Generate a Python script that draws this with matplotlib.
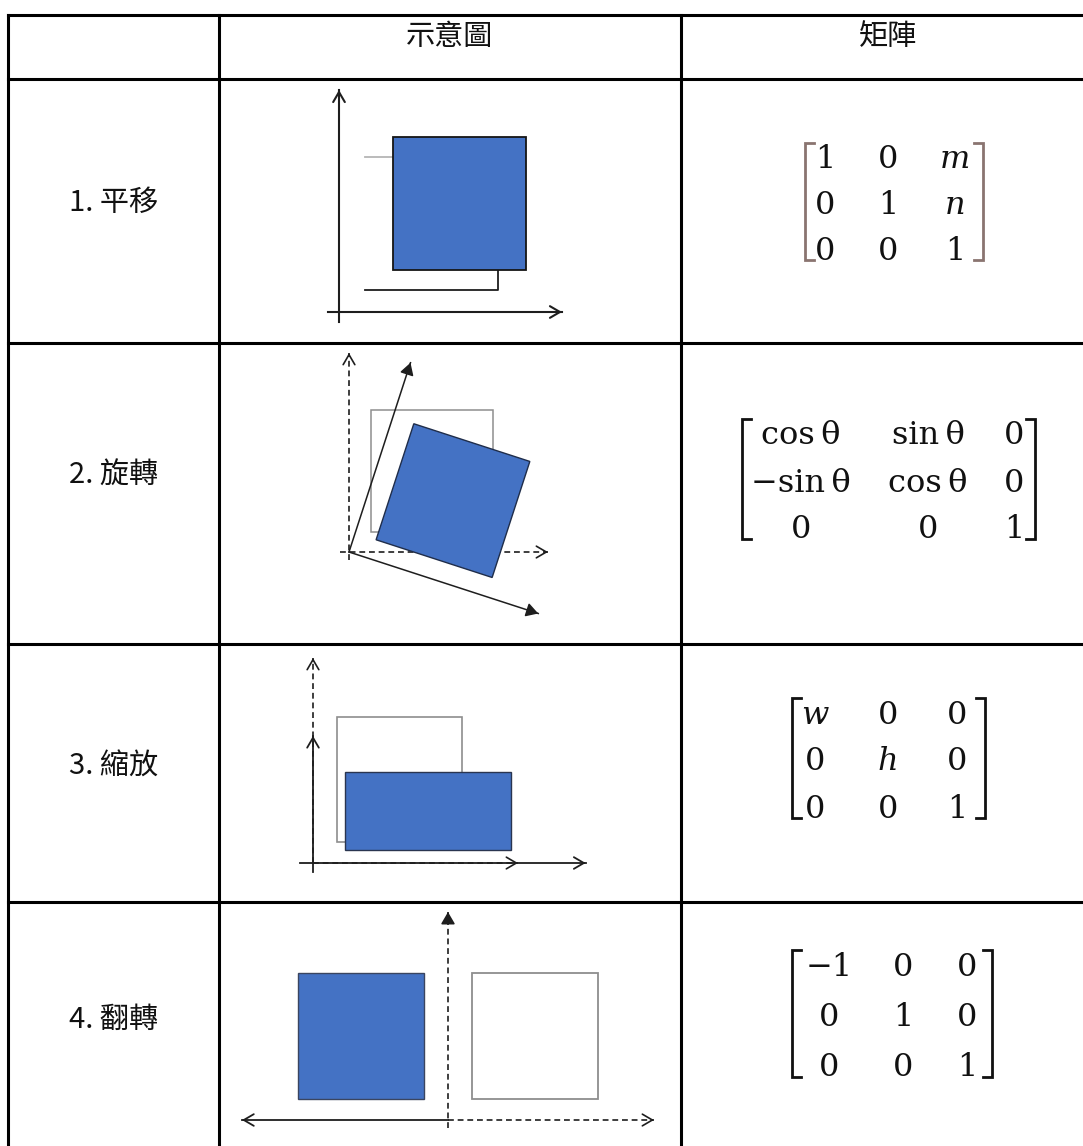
import matplotlib
matplotlib.use('Agg')
import matplotlib.pyplot as plt
import numpy as np
from matplotlib.patches import Polygon

plt.rcParams['font.family'] = ['Noto Sans CJK TC', 'DejaVu Sans']

# ---------------- data ----------------
headers = ['', '示意圖', '矩陣']
row_labels = ['1. 平移', '2. 旋轉', '3. 縮放', '4. 翻轉']
mat_translate = [['1', '0', 'm'], ['0', '1', 'n'], ['0', '0', '1']]
mat_rotate = [['cos\u2009θ', 'sin\u2009θ', '0'], ['−sin\u2009θ', 'cos\u2009θ', '0'], ['0', '0', '1']]
mat_scale = [['w', '0', '0'], ['0', 'h', '0'], ['0', '0', '1']]
mat_flip = [['−1', '0', '0'], ['0', '1', '0'], ['0', '0', '1']]
matrices = [mat_translate, mat_rotate, mat_scale, mat_flip]

# transform parameters used in the diagrams
trans_m, trans_n = 28, 20
rot_theta_deg = 18
scale_w, scale_h = 1.33, 0.62
flip_sx = -1

# ---------------- layout ----------------
W, H = 1083, 1146
fig = plt.figure(figsize=(W / 100, H / 100), dpi=100)
ax = fig.add_axes([0, 0, 1, 1])
ax.set_xlim(0, W)
ax.set_ylim(H, 0)
ax.axis('off')

col_x = [7.5, 219, 681, 1095]
row_y = [15, 79, 343, 644, 902, 1160]
TAB_LW = 2.2
for y in row_y[:-1]:
    ax.plot([col_x[0], W + 10], [y, y], color='black', lw=TAB_LW, solid_capstyle='projecting', zorder=5)
for x in col_x[:-1]:
    ax.plot([x, x], [row_y[0], H + 10], color='black', lw=TAB_LW, solid_capstyle='projecting', zorder=5)

# header texts
for i, t in enumerate(headers):
    if t:
        cx = (col_x[i] + col_x[i + 1]) / 2
        ax.text(cx, 37, t, ha='center', va='center', fontsize=21, color='#111111')

# row labels
label_y = [203, 476, 767, 1020]
lab_x = (col_x[0] + col_x[1]) / 2
for t, y in zip(row_labels, label_y):
    ax.text(lab_x, y, t, ha='center', va='center', fontsize=21, color='#111111')

# matrices
mat_layout = [
    dict(cols=[825, 888, 955], rows=[157, 203, 248], br=(805, 983), color='#8a7470'),
    dict(cols=[801, 928, 1014], rows=[433, 480, 527], br=(742, 1035), color='#111111'),
    dict(cols=[815, 888, 957], rows=[712, 759, 806], br=(792, 985), color='#111111'),
    dict(cols=[829, 903, 967], rows=[964, 1015, 1065], br=(792, 992), color='#111111'),
]
DIG_H = 23
for mat, lay in zip(matrices, mat_layout):
    for r, row in enumerate(mat):
        for c, s in enumerate(row):
            italic = s.isalpha() and len(s) == 1
            ax.text(lay['cols'][c], lay['rows'][r] + DIG_H / 2, s, ha='center', va='baseline',
                    fontsize=23, family='DejaVu Serif', style='italic' if italic else 'normal',
                    color='#111111')
    top = lay['rows'][0] - 14
    bot = lay['rows'][-1] + 12
    xl, xr = lay['br']
    tick = 9
    ax.plot([xl + tick, xl, xl, xl + tick], [top, top, bot, bot], color=lay['color'], lw=2.0,
            solid_joinstyle='miter')
    ax.plot([xr - tick, xr, xr, xr - tick], [top, top, bot, bot], color=lay['color'], lw=2.0,
            solid_joinstyle='miter')

# ---------------- diagrams ----------------
BLUE = '#4472C4'
BLUE_EDGE = '#1f2d4a'
AX_C = '#1e1e1e'
GRAY = '#8e8e8e'


def scr(o, p):
    p = np.asarray(p, dtype=float)
    return np.column_stack([o[0] + p[:, 0], o[1] - p[:, 1]])


def apply(M, pts):
    pts = np.asarray(pts, dtype=float)
    h = np.column_stack([pts, np.ones(len(pts))])
    return (h @ np.asarray(M).T)[:, :2]


def square(x0, y0, s):
    return np.array([[x0, y0], [x0 + s, y0], [x0 + s, y0 + s], [x0, y0 + s]])


def arrow(o, p0, p1, dashed=False, head='->', color=AX_C, lw=1.3, z=3):
    P = scr(o, [p0, p1])
    ls = (0, (3.5, 2.3)) if dashed else '-'
    ax.plot(P[:, 0], P[:, 1], color=color, lw=lw, ls=ls, zorder=z)
    d = P[1] - P[0]
    d = d / np.linalg.norm(d)
    ax.annotate('', xy=tuple(P[1]), xytext=tuple(P[1] - d * 3),
                arrowprops=dict(arrowstyle=f'{head},head_length=0.6,head_width=0.35', color=color,
                                lw=lw, shrinkA=0, shrinkB=0, mutation_scale=12), zorder=z)


def poly(pts_scr, fc, ec, lw, z):
    ax.add_patch(Polygon(pts_scr, closed=True, facecolor=fc, edgecolor=ec, lw=lw, zorder=z))


# 1. translation
o1 = (339, 312)
T = [[1, 0, trans_m], [0, 1, trans_n], [0, 0, 1]]
sq1 = square(26, 22, 133)
arrow(o1, (0, -10), (0, 222), head='->', lw=1.5)
arrow(o1, (-11, 0), (223, 0), head='->', lw=1.5)
x0, y0 = sq1[0]
x1, y1 = sq1[2]
P = scr(o1, [(x0, y1), (x0 + trans_m, y1)])
ax.plot(P[:, 0], P[:, 1], color='#b5b5b5', lw=1.3, zorder=3)
P = scr(o1, [(x0, y0), (x1, y0), (x1, y0 + trans_n)])
ax.plot(P[:, 0], P[:, 1], color=AX_C, lw=1.3, zorder=3)
poly(scr(o1, apply(T, sq1)), BLUE, '#151515', 1.3, 4)

# 2. rotation
o2 = (349, 552)
th = np.deg2rad(rot_theta_deg)
R = [[np.cos(th), np.sin(th), 0], [-np.sin(th), np.cos(th), 0], [0, 0, 1]]
L2 = 199
arrow(o2, (0, -8), (0, L2), dashed=True, head='->', lw=1.2)
arrow(o2, (-9, 0), (L2, 0), dashed=True, head='->', lw=1.2)
sq2 = square(22, 20, 122)
poly(scr(o2, sq2), 'none', GRAY, 1.1, 3)
ry = apply(R, [(0, L2)])[0]
rx = apply(R, [(L2, 0)])[0]
arrow(o2, (0, 0), tuple(ry), head='-|>', lw=1.1, z=3.5)
arrow(o2, (0, 0), tuple(rx), head='-|>', lw=1.1, z=3.5)
poly(scr(o2, apply(R, sq2)), BLUE, BLUE_EDGE, 1.0, 4)

# 3. scaling
o3 = (313, 863)
S = [[scale_w, 0, 0], [0, scale_h, 0], [0, 0, 1]]
L3 = 205
arrow(o3, (0, 0), (0, L3), dashed=True, head='->', lw=1.2)
arrow(o3, (0, 0), (L3, 0), dashed=True, head='->', lw=1.2)
arrow(o3, (0, -9), (0, L3 * scale_h), head='->', lw=1.3, z=3.2)
arrow(o3, (-13, 0), (L3 * scale_w, 0), head='->', lw=1.3, z=3.2)
sq3 = square(24, 21, 125)
poly(scr(o3, sq3), 'white', GRAY, 1.2, 3.3)
poly(scr(o3, apply(S, sq3)), BLUE, '#2a3550', 1.0, 4)

# 4. flip
o4 = (448, 1120)
F = [[flip_sx, 0, 0], [0, 1, 0], [0, 0, 1]]
L4 = 206
arrow(o4, (0, -8), (0, 208), dashed=True, head='-|>', lw=1.2)
arrow(o4, (0, 0), (L4, 0), dashed=True, head='->', lw=1.2)
arrow(o4, (0, 0), (flip_sx * L4, 0), head='->', lw=1.3)
sq4 = square(24, 21, 126)
poly(scr(o4, sq4), 'white', GRAY, 1.3, 3.3)
poly(scr(o4, apply(F, sq4)), BLUE, '#3a4560', 1.0, 4)

fig.savefig('out.png', dpi=100, facecolor='white')
